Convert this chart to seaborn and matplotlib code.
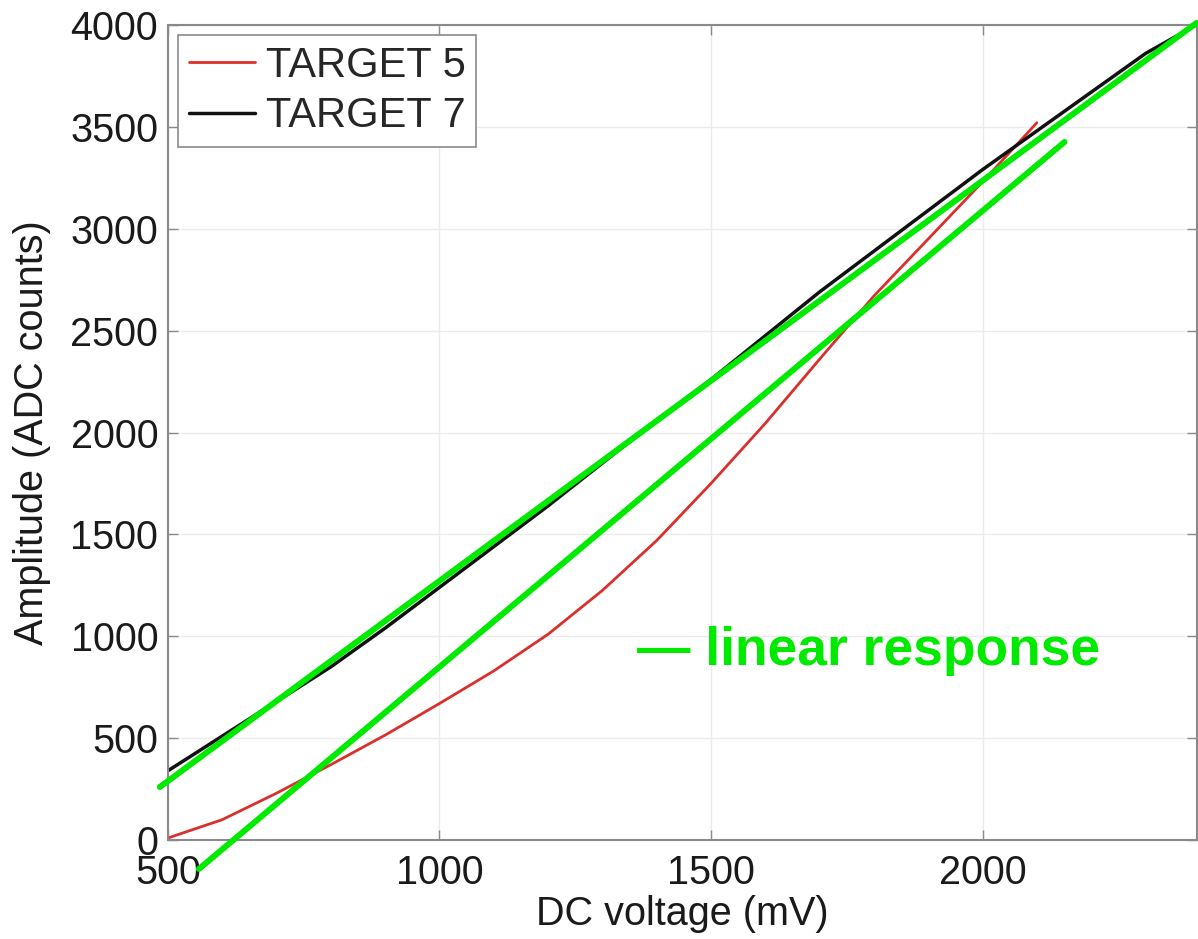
import pandas as pd
import seaborn as sns
import matplotlib.pyplot as plt

# DC voltage steps (mV)
voltage = [500, 600, 700, 800, 900, 1000, 1100, 1200, 1300, 1400,
           1500, 1600, 1700, 1800, 1900, 2000, 2100, 2200, 2300, 2400]

# amplitude readings (ADC counts)
target5 = [10, 100, 230, 370, 515, 670, 830, 1010, 1225, 1470,
           1750, 2045, 2360, 2670, 2950, 3230, 3520]
target7 = [340, 510, 680, 850, 1040, 1240, 1440, 1640, 1850, 2060,
           2260, 2475, 2690, 2890, 3090, 3290, 3480, 3670, 3860, 4010]

# hand-drawn "linear response" guide lines (end points in data units)
guide_upper_x = [485, 2394]
guide_upper_y = [260, 4010]
guide_lower_x = [557, 2151]
guide_lower_y = [-142, 3426]

df = pd.concat([
    pd.DataFrame({"voltage": voltage[:len(target5)], "amp": target5, "board": "TARGET 5"}),
    pd.DataFrame({"voltage": voltage, "amp": target7, "board": "TARGET 7"}),
])

sns.set_theme(style="whitegrid")
plt.rcParams["font.family"] = ["Liberation Sans", "DejaVu Sans"]

fig = plt.figure(figsize=(11.98, 9.39), dpi=100)
ax = fig.add_axes([0.1402, 0.1054, 0.8590, 0.8680])

widths = [2.0, 2.5]
sns.lineplot(data=df, x="voltage", y="amp", hue="board",
             palette={"TARGET 5": "#d9302c", "TARGET 7": "#111111"},
             ax=ax, legend=True)
for line, lw in zip(ax.lines, widths):
    line.set_linewidth(lw)

green = "#00ea00"
ax.plot(guide_upper_x, guide_upper_y, color=green, lw=4.3, clip_on=False, zorder=5)
ax.plot(guide_lower_x, guide_lower_y, color=green, lw=4.3, clip_on=False, zorder=5)
ax.text(1363, 858, "\u2014 linear response", color=green, fontsize=38.4,
        fontweight="bold", va="baseline", ha="left", zorder=6)

ax.set_xlim(500, 2395)
ax.set_ylim(0, 4000)
ax.set_xticks([500, 1000, 1500, 2000])
ax.set_yticks(range(0, 4001, 500))

ax.set_facecolor("white")
ax.grid(True, color="#ebebeb", lw=1)
for sp in ax.spines.values():
    sp.set_visible(True)
    sp.set_color("#8a8a8a")
    sp.set_linewidth(1.5)
ax.tick_params(axis="both", which="both", direction="in", length=7, width=1,
               color="#8a8a8a", labelsize=28.5, labelcolor="#1a1a1a",
               top=True, right=True, bottom=True, left=True)
ax.tick_params(axis="y", pad=7)
ax.tick_params(axis="x", pad=10)

ax.set_xlabel("DC voltage (mV)", fontsize=28.5, color="#1a1a1a", labelpad=2)
ax.set_ylabel("Amplitude (ADC counts)", fontsize=28.5, color="#1a1a1a", labelpad=14)

leg = ax.legend(loc="upper left", fontsize=30, frameon=True, fancybox=False,
                framealpha=1, edgecolor="#8a8a8a", borderaxespad=0.25,
                borderpad=0.25, handlelength=1.6, handletextpad=0.25,
                labelspacing=0.25)
leg.get_frame().set_linewidth(1.2)
for h, lw in zip(leg.get_lines(), widths):
    h.set_linewidth(lw)

plt.savefig("out.png", dpi=100)
